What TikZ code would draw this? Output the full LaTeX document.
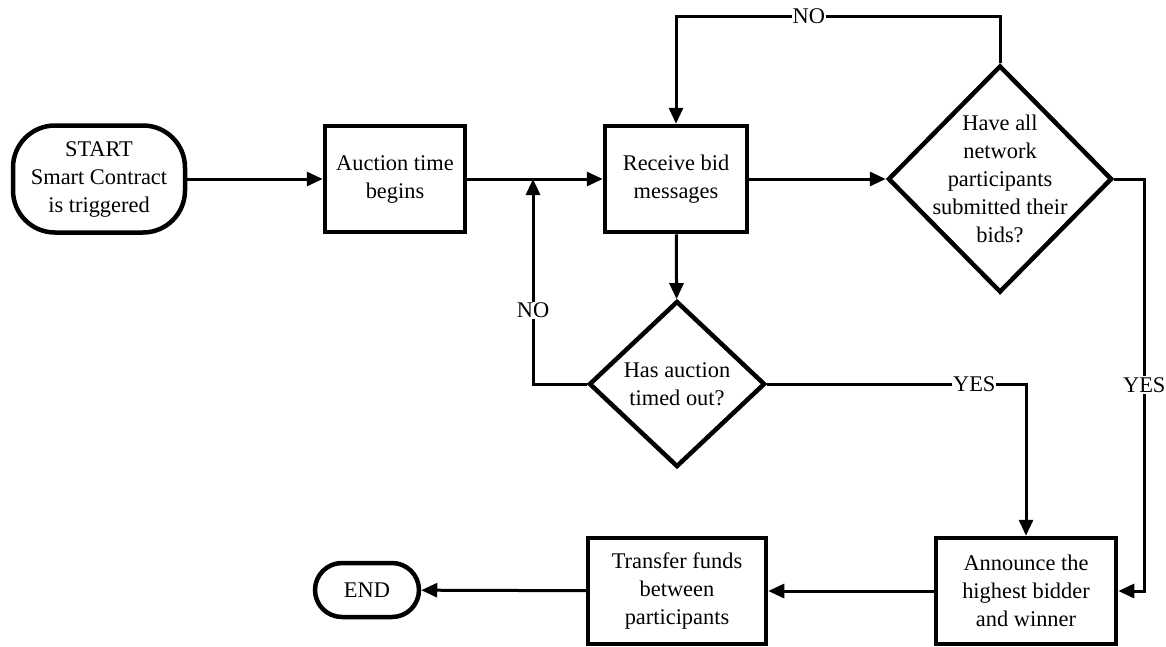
\documentclass[tikz,border=0pt]{standalone}
\usepackage{fontspec}
\setmainfont{Liberation Serif}
\usetikzlibrary{shapes.geometric,arrows.meta}

\begin{document}
\begin{tikzpicture}[x=1pt,y=-1pt,font=\fontsize{22.4}{28}\selectfont,
  box/.style={draw,line width=4.5pt,minimum width=142pt,minimum height=106pt,align=center,inner sep=2pt},
  term/.style={draw,line width=4.5pt,rounded corners=27pt,align=center},
  decision/.style={draw,diamond,line width=4.5pt,inner sep=0pt},
  link/.style={line width=3pt,-{Triangle[length=16pt,width=14pt]}},
  lbl/.style={fill=white,inner sep=1pt}]
\useasboundingbox (0,0) rectangle (1166,646);
\node[term,rounded corners=42pt,minimum width=172pt,minimum height=107pt] (S) at (99,179) {START\\Smart Contract\\is triggered};
\node[box,minimum width=140pt] (A) at (395,179) {Auction time\\begins};
\node[box] (R) at (676,179) {Receive bid\\messages};
\node[decision,minimum width=224pt,minimum height=227pt] (Q1) at (1000,179) {};
\node[align=center] (Q1t) at (Q1) {Have all\\network\\participants\\submitted their\\bids?};
\node[decision,minimum width=176pt,minimum height=166pt] (Q2) at (677,384) {};
\node[align=center] (Q2t) at (Q2) {Has auction\\timed out?};
\node[box,minimum width=180pt] (W) at (1026,591) {Announce the\\highest bidder\\and winner};
\node[box,minimum width=178pt] (T) at (677,591) {Transfer funds\\between\\participants};
\node[term,minimum width=104pt,minimum height=54pt] (E) at (367,590) {END};
\coordinate (J) at (533,179);
\draw[link] (S) -- (A);
\draw[link] (A) -- (R);
\draw[link] (R) -- (Q1);
\draw[link] (R) -- (Q2);
\draw[link] (Q1.north) -- ++(0,-47) -| node[lbl,pos=0.295] (no1) {NO} (R.north);
\draw[link] (Q2.west) -| node[lbl,pos=0.68] (no2) {NO} (J);
\draw[link] (Q2.east) -| node[lbl,pos=0.40] (yes1) {YES} (W.north);
\draw[link] (Q1.east) -- ++(30,0) |- node[lbl,pos=0.25] (yes2) {YES} (W.east);
\draw[link] (W) -- (T);
\draw[link] (T) -- (E);
\end{tikzpicture}
\end{document}
